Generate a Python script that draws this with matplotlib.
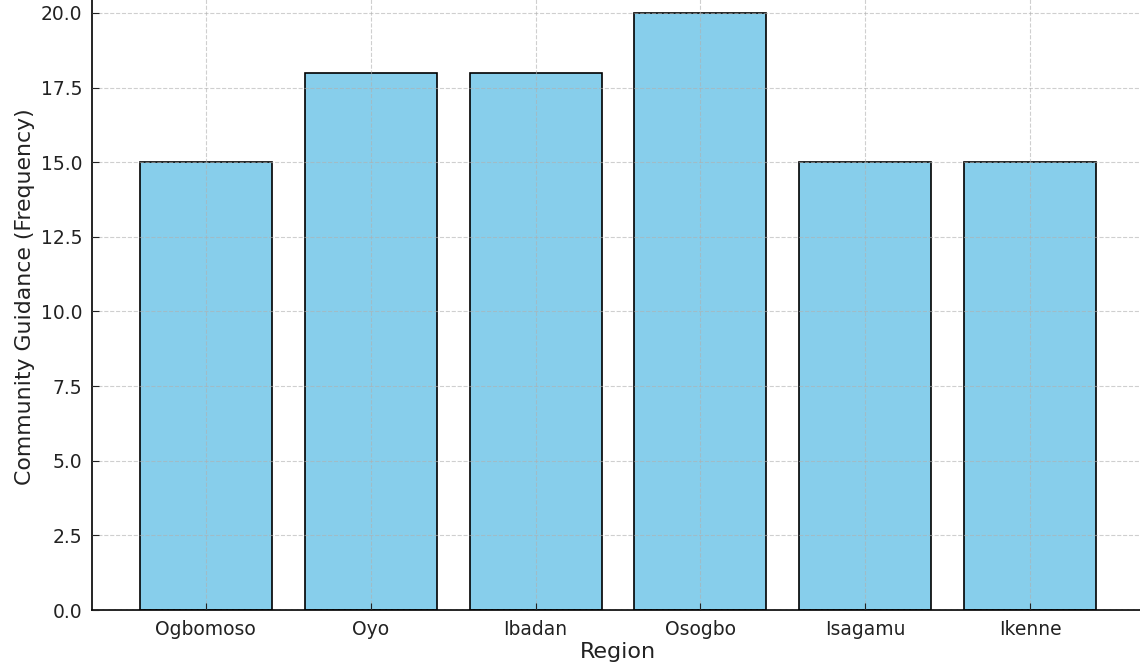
import matplotlib
matplotlib.use("Agg")
import matplotlib.pyplot as plt

regions = ["Ogbomoso", "Oyo", "Ibadan", "Osogbo", "Isagamu", "Ikenne"]
guidance = [15, 18, 18, 20, 15, 15]
ytick_values = [0, 2.5, 5, 7.5, 10, 12.5, 15, 17.5, 20]

plt.rcParams["font.family"] = ["DejaVu Sans"]
fig = plt.figure(figsize=(11.4, 6.67), dpi=100)
ax = fig.add_axes([92/1140, 57/667, 1052/1140, 627/667])
ax.bar(regions, guidance, width=0.8, color="skyblue", edgecolor="black", linewidth=1.2, zorder=2)
ax.set_xlim(-0.69, 5.69)
ax.set_ylim(0, 21)
ax.set_yticks(ytick_values)
ax.set_yticklabels([f"{v:.1f}" for v in ytick_values])
ax.grid(True, linestyle="--", color="#b0b0b0", alpha=0.6, linewidth=0.8, zorder=3)
ax.set_axisbelow(False)
for s in ["top", "right"]:
    ax.spines[s].set_visible(False)
ax.spines["left"].set_linewidth(1.2)
ax.spines["bottom"].set_linewidth(1.2)
ax.tick_params(labelsize=13.5, colors="#222222", direction="in", length=5, pad=7)
ax.set_xlabel("Region", fontsize=16, color="#222222", labelpad=2)
ax.set_ylabel("Community Guidance (Frequency)", fontsize=15.8, color="#222222", labelpad=4)
fig.savefig("out.png", dpi=100)
